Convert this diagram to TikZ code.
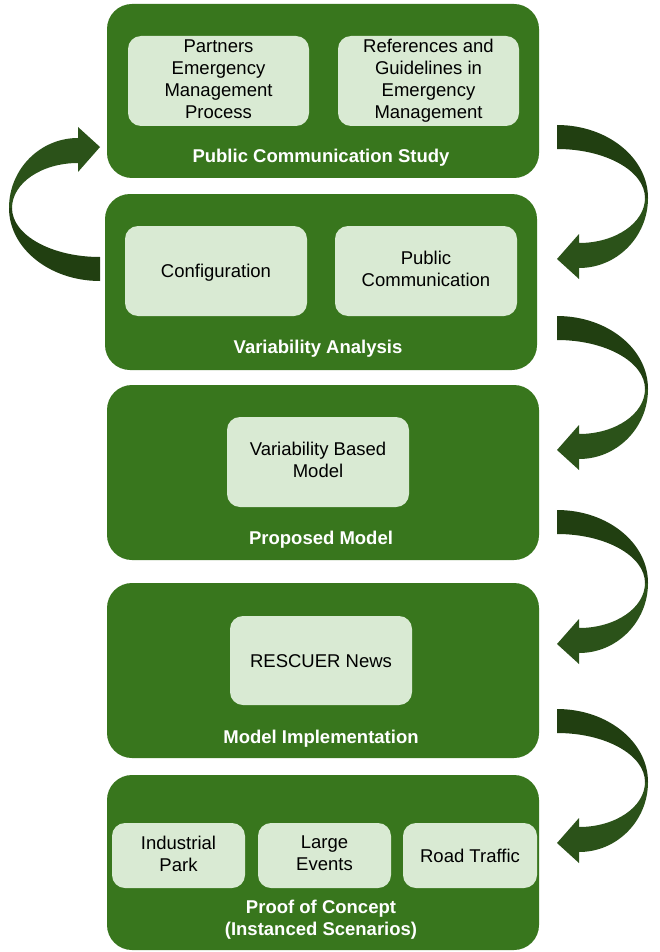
\documentclass[tikz,border=0pt]{standalone}
\usepackage{fontspec}
\setmainfont{Liberation Sans}
\definecolor{outergreen}{HTML}{38761D}
\definecolor{innergreen}{HTML}{D9EAD3}
\definecolor{headgreen}{HTML}{2B5219}
\definecolor{tailgreen}{HTML}{213F11}
\newcommand{\mytopstrut}{\rule{0pt}{17pt}}
\newcommand{\mybotstrut}{\rule[-4pt]{0pt}{4pt}}
\tikzset{
  outerbox/.style={fill=outergreen, rounded corners=25pt, inner sep=0pt,
    minimum width=432pt, minimum height=175pt},
  innerbox/.style={fill=innergreen, rounded corners=13pt, inner sep=0pt,
    minimum width=182pt, minimum height=90pt, align=center, text=black,
    font=\fontsize{18.5}{22}\selectfont,
    execute at begin node=\mytopstrut, execute at end node=\mybotstrut},
  smallbox/.style={innerbox, minimum width=133pt, minimum height=65pt},
  titletext/.style={text=white, font=\bfseries\fontsize{18.5}{22}\selectfont,
    align=center, inner sep=0pt,
    execute at begin node=\mytopstrut, execute at end node=\mybotstrut},
  curvarrow/.pic={
    \fill[headgreen] (0,0) arc[start angle=180,end angle=270,x radius=69,y radius=70]
      -- (69,-81) -- (91,-61) -- (69,-36) -- (69,-45)
      arc[start angle=270,end angle=180,x radius=66,y radius=45] -- cycle;
    \fill[tailgreen] (3,0) arc[start angle=180,end angle=90,x radius=88,y radius=49]
      -- (91,73) arc[start angle=90,end angle=180,x radius=91,y radius=73] -- cycle;
  }
}
\begin{document}
\begin{tikzpicture}[x=1pt,y=-1pt]
\useasboundingbox (0,0) rectangle (659,952);
\fill[white] (0,0) rectangle (659,952);

% outer boxes
\node[outerbox, minimum height=174pt] (b1) at (323,91) {};
\node[outerbox, minimum height=176pt] (b2) at (321,282) {};
\node[outerbox] (b3) at (323,472.5) {};
\node[outerbox] (b4) at (323,670.5) {};
\node[outerbox] (b5) at (323,862.5) {};

% inner boxes
\node[innerbox, minimum width=181pt] (b1l) at (218.5,81) {Partners\\Emergency\\Management\\Process};
\node[innerbox, minimum width=181pt] (b1r) at (428.5,81) {References and\\Guidelines in\\Emergency\\Management};
\node[innerbox] (b2l) at (216,271) {Configuration};
\node[innerbox] (b2r) at (426,271) {Public\\Communication};
\node[innerbox] (b3c) at (318,462) {Variability Based\\Model};
\node[innerbox, minimum height=89pt] (b4c) at (321,660.5) {RESCUER News};
\node[smallbox] (b5l) at (178.5,855.5) {Industrial\\Park};
\node[smallbox] (b5m) at (324.5,855.5) {Large\\Events};
\node[smallbox, minimum width=134pt] (b5r) at (470,855.5) {Road Traffic};

% titles
\node[titletext] (t1) at (321,156.5) {Public Communication Study};
\node[titletext] (t2) at (318,346.5) {Variability Analysis};
\node[titletext] (t3) at (321,537.5) {Proposed Model};
\node[titletext] (t4) at (321,736.5) {Model Implementation};
\node[titletext] (t5) at (321,919.5) {Proof of Concept\\(Instanced Scenarios)};

% curved arrows
\coordinate (pl) at (9,208);
\coordinate (pr1) at (648,198);
\coordinate (pr2) at (648,389);
\coordinate (pr3) at (648,583);
\coordinate (pr4) at (648,782);
\pic at (pl) {curvarrow};
\pic[rotate=180] at (pr1) {curvarrow};
\pic[rotate=180] at (pr2) {curvarrow};
\pic[rotate=180] at (pr3) {curvarrow};
\pic[rotate=180] at (pr4) {curvarrow};
\end{tikzpicture}
\end{document}
